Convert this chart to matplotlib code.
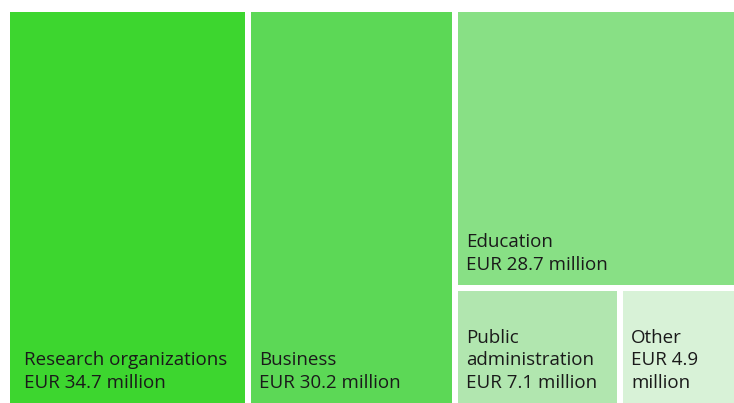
import matplotlib
matplotlib.use("Agg")
import matplotlib.pyplot as plt
from matplotlib.patches import Rectangle

# funding by sector, EUR million
labels = ["Research organizations", "Business", "Education", "Public\nadministration", "Other"]
values = [34.7, 30.2, 28.7, 7.1, 4.9]
colors = ["#3dd62f", "#5cd856", "#88e085", "#b1e6af", "#d8f2d7"]

plt.rcParams['font.family'] = ['Open Sans', 'DejaVu Sans']

W, H = 734, 403
x0, y0 = 10, 12   # top-left of treemap area
gap = 6

fig = plt.figure(figsize=(W / 100, H / 100), dpi=100)
ax = fig.add_axes([0, 0, 1, 1])
ax.set_xlim(0, W)
ax.set_ylim(H, 0)
ax.axis("off")

total = sum(values)
tw = W - x0
th = H - y0

# three columns: research, business, rest (education on top, public+other below)
cells = []
cx = x0
for v in values[:2]:
    w = v / total * tw
    cells.append((cx, y0, w, th))
    cx += w
rest = sum(values[2:])
rw = W - cx
eh = values[2] / rest * th
cells.append((cx, y0, rw, eh))
small = values[3] + values[4]
pw = values[3] / small * rw
cells.append((cx, y0 + eh, pw, th - eh))
cells.append((cx + pw, y0 + eh, rw - pw, th - eh))

for (x, y, w, h), lab, v, c in zip(cells, labels, values, colors):
    # trim half a gap on inner edges
    l = x if x <= x0 else x + gap / 2
    t = y if y <= y0 else y + gap / 2
    r = x + w if x + w >= W else x + w - gap / 2
    b = y + h
    if b < H - 1:
        b -= gap / 2
    ax.add_patch(Rectangle((l, t), r - l, b - t, facecolor=c, edgecolor="none"))
    if lab == "Other":
        txt = "Other\nEUR %.1f\nmillion" % v
    else:
        txt = "%s\nEUR %.1f million" % (lab, v)
    pad = 14 if lab.startswith("Research") else 8
    ax.text(l + pad, b - 11, txt, ha="left", va="bottom", fontsize=13.5,
            color="#1a1a1a", linespacing=1.33)

fig.savefig("out.png", dpi=100)
